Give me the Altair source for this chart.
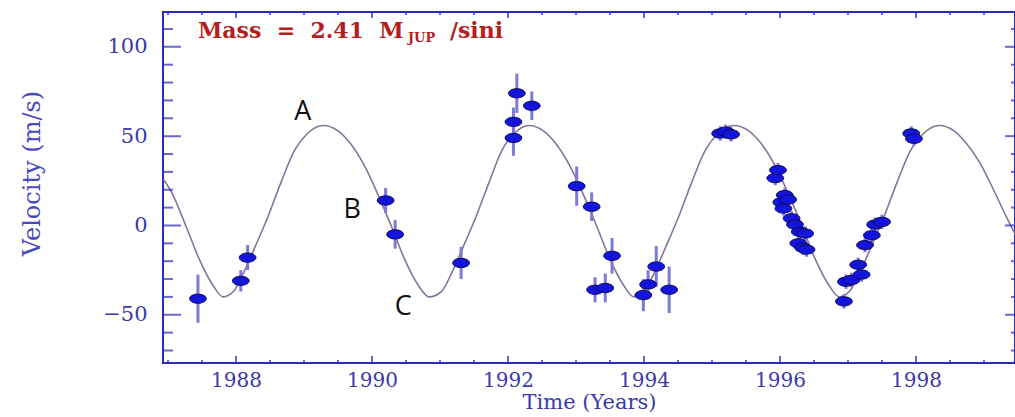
import altair as alt
import pandas as pd

# ---- fitted orbit curve ----
curve_year = [1986.93, 1987.06, 1987.26, 1987.46, 1987.66, 1987.81,
              1987.96, 1988.13, 1988.28, 1988.46, 1988.66, 1988.86, 1989.05, 1989.28,
              1989.50, 1989.68, 1989.88, 1990.08, 1990.28, 1990.48, 1990.68, 1990.84,
              1991.02, 1991.19, 1991.34, 1991.52, 1991.72, 1991.91, 1992.09, 1992.31,
              1992.52, 1992.70, 1992.90, 1993.10, 1993.30, 1993.50, 1993.70, 1993.85,
              1994.00, 1994.17, 1994.32, 1994.50, 1994.70, 1994.90, 1995.09, 1995.32,
              1995.54, 1995.72, 1995.92, 1996.12, 1996.32, 1996.52, 1996.72, 1996.87,
              1997.02, 1997.19, 1997.34, 1997.52, 1997.72, 1997.92, 1998.11, 1998.34,
              1998.56, 1998.74, 1998.94, 1999.14, 1999.34, 1999.46]
curve_vel = [26, 18, 0, -19, -33.5, -40,
             -37, -25, -12, 4, 24, 42, 51.5, 56,
             53, 46, 34, 18, 0, -19, -33.5, -40,
             -37, -25, -12, 4, 24, 42, 51.5, 56,
             53, 46, 34, 18, 0, -19, -33.5, -40,
             -37, -25, -12, 4, 24, 42, 51.5, 56,
             53, 46, 34, 18, 0, -19, -33.5, -40,
             -37, -25, -12, 4, 24, 42, 51.5, 56,
             53, 46, 35, 20, 4, -5]

# ---- observations ----
obs_year = [1987.44, 1988.07, 1988.17, 1990.20, 1990.34, 1991.31,
            1992.08, 1992.08, 1992.13, 1992.35,
            1993.01, 1993.23, 1993.28, 1993.43, 1993.53,
            1993.99, 1994.06, 1994.18, 1994.37,
            1995.12, 1995.20, 1995.28,
            1995.93, 1995.97, 1996.02, 1996.05, 1996.07, 1996.12, 1996.17,
            1996.22, 1996.27, 1996.29, 1996.34, 1996.37, 1996.39,
            1996.94, 1996.97, 1997.05, 1997.15, 1997.20, 1997.25, 1997.35,
            1997.40, 1997.50,
            1997.93, 1997.97]
obs_vel = [-41, -31, -18, 14, -5, -21,
           58, 49, 74, 67,
           22, 10.5, -36, -35, -17,
           -39, -33, -23, -36,
           51.5, 52.5, 51,
           26.5, 31, 13, 9.5, 17, 14.5, 4,
           0.5, -10, -3.5, -12.5, -4.5, -13.5,
           -42.5, -31.5, -30.5, -22, -27.5, -11, -5.5,
           0.5, 2,
           51.5, 48.5]
obs_err = [13.5, 6, 7, 7, 8, 9,
           8, 10, 11, 8,
           11, 8, 7, 8, 10,
           9, 8, 11.5, 13,
           4, 4, 4,
           4, 4, 4, 4, 4, 4, 4,
           4, 4, 4, 4, 4, 4,
           4, 4, 4, 4, 4, 4, 4,
           4, 4,
           4, 4]

# ---- axis ticks ----
x_major = [1988, 1990, 1992, 1994, 1996, 1998]
x_minor = [1987.0, 1987.5, 1988.5, 1989.0, 1989.5, 1990.5, 1991.0, 1991.5,
           1992.5, 1993.0, 1993.5, 1994.5, 1995.0, 1995.5, 1996.5, 1997.0,
           1997.5, 1998.5, 1999.0]
y_major = [-50, 0, 50, 100]
y_minor = [-70, -60, -40, -30, -20, -10, 10, 20, 30, 40, 60, 70, 80, 90, 110]

# ---- annotations ----
letters = ["A", "B", "C"]
letter_year = [1988.98, 1989.71, 1990.46]
letter_vel = [63.4, 8.7, -45.4]

W, H = 852, 351
BLUE = "#2a2ab4"
LAB = "#3a3aa8"

xs = alt.Scale(domain=[1986.926, 1999.456], nice=False, zero=False)
ys = alt.Scale(domain=[-77, 119.5], nice=False, zero=False)

curve_df = pd.DataFrame({"year": curve_year, "vel": curve_vel})
obs_df = pd.DataFrame({"year": obs_year, "vel": obs_vel, "err": obs_err})
obs_df["lo"] = obs_df["vel"] - obs_df["err"]
obs_df["hi"] = obs_df["vel"] + obs_df["err"]

curve = alt.Chart(curve_df).mark_line(
    color="#86749a", strokeWidth=1.6, interpolate="monotone", clip=True
).encode(
    x=alt.X("year:Q", scale=xs, axis=alt.Axis(
        values=x_major, format="d", ticks=False, domain=False, grid=False,
        tickSize=0, labelFont="DejaVu Serif", labelFontSize=20, labelColor=LAB,
        labelPadding=7, title="Time (Years)", titleFont="DejaVu Serif",
        titleFontSize=21, titleFontWeight="normal", titleColor=LAB, titlePadding=1)),
    y=alt.Y("vel:Q", scale=ys, axis=alt.Axis(
        values=y_major, format="d", ticks=False, domain=False, grid=False,
        tickSize=0, labelFont="DejaVu Serif", labelFontSize=21, labelColor=LAB,
        labelPadding=16, title="Velocity (m/s)", titleFont="DejaVu Serif",
        titleFontSize=24, titleFontWeight="normal", titleColor="#4848c0",
        titleX=-131, titleY=161, titleAngle=270, titleAlign="center",
        titleBaseline="middle")),
)

bars = alt.Chart(obs_df).mark_rule(color="#7b7bd6", strokeWidth=3).encode(
    x=alt.X("year:Q", scale=xs, axis=None),
    y=alt.Y("lo:Q", scale=ys, axis=None),
    y2="hi:Q",
)

ellipse = "M -1 0 A 1 0.55 0 1 0 1 0 A 1 0.55 0 1 0 -1 0 Z"
pts = alt.Chart(obs_df).mark_point(
    shape=ellipse, size=280, filled=True, fill="#1414dc", stroke="#0a0a50",
    strokeWidth=1, opacity=1
).encode(
    x=alt.X("year:Q", scale=xs, axis=None),
    y=alt.Y("vel:Q", scale=ys, axis=None),
)

def xticks(vals, size, ypix):
    return alt.Chart(pd.DataFrame({"t": vals})).mark_tick(
        color=BLUE, thickness=2, size=size, clip=True
    ).encode(x=alt.X("t:Q", scale=xs, axis=None), y=alt.value(ypix))

def yticks(vals, size, xpix):
    return alt.Chart(pd.DataFrame({"t": vals})).mark_tick(
        color=BLUE, thickness=2, size=size, clip=True
    ).encode(y=alt.Y("t:Q", scale=ys, axis=None), x=alt.value(xpix))

ticks = [
    xticks(x_major, 14, H), xticks(x_minor, 6, H),
    xticks(x_major, 12, 0), xticks(x_minor, 6, 0),
    yticks(y_major, 36, 0), yticks(y_minor, 20, 0),
    yticks(y_major, 20, W), yticks(y_minor, 8, W),
]

letter_df = pd.DataFrame({"lab": letters, "year": letter_year, "vel": letter_vel})
letter_txt = alt.Chart(letter_df).mark_text(
    font="Open Sans", fontSize=27, color="#111111", align="center", baseline="middle"
).encode(
    x=alt.X("year:Q", scale=xs, axis=None),
    y=alt.Y("vel:Q", scale=ys, axis=None),
    text="lab:N",
)

mass_df = pd.DataFrame({"year": [1987.44], "vel": [104.8]})
def mass_piece(txt, dx, dy, fs):
    return alt.Chart(mass_df).mark_text(
        text=txt, font="DejaVu Serif", fontWeight="bold", fontSize=fs,
        color="#b41e1e", align="left", baseline="alphabetic", dx=dx, dy=dy
    ).encode(x=alt.X("year:Q", scale=xs, axis=None),
             y=alt.Y("vel:Q", scale=ys, axis=None))

NB = "\u00a0"
mass = [mass_piece("Mass" + NB * 2 + "=" + NB * 2 + "2.41" + NB * 2 + "M", 0, 0, 22),
        mass_piece("JUP", 210, 4, 13),
        mass_piece("/sini", 252, 0, 22)]

chart = alt.layer(curve, bars, pts, *ticks, letter_txt, *mass).resolve_axis(
    x="independent", y="independent"
).properties(
    width=W, height=H,
    padding={"left": 163, "top": 12, "right": 0, "bottom": 54},
    autosize=alt.AutoSizeParams(type="none"),
    background="white",
).configure_view(stroke=BLUE, strokeWidth=2)

chart.save("out.html", embed_options={"renderer": "svg", "actions": False})
